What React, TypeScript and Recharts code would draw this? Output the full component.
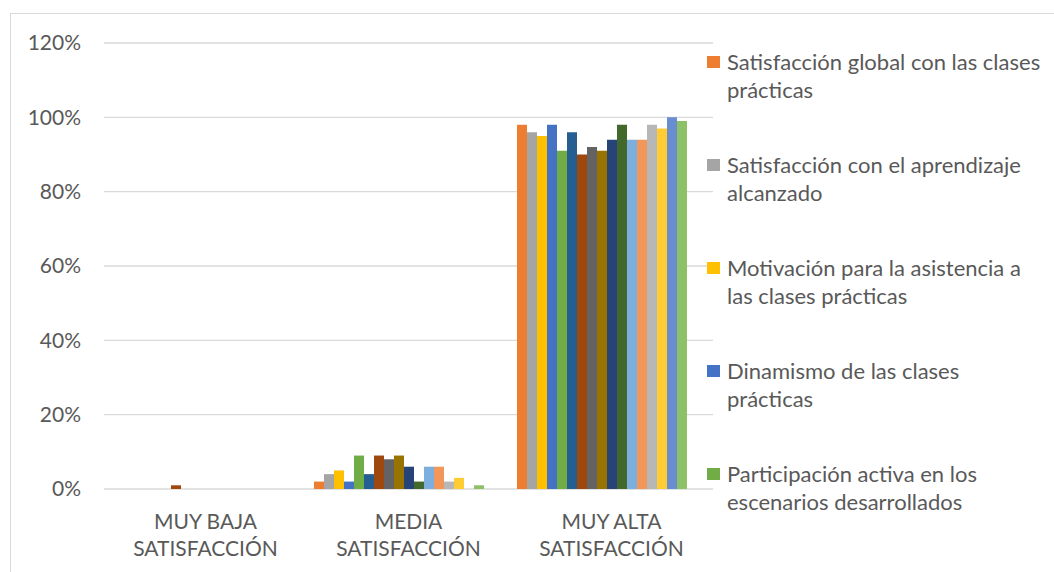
import React from "react";
import { BarChart, Bar, XAxis, YAxis, CartesianGrid, Legend } from "recharts";

const categories = ["MUY BAJA SATISFACCIÓN", "MEDIA SATISFACCIÓN", "MUY ALTA SATISFACCIÓN"];

const seriesNames = [
  "Satisfacción global con las clases prácticas",
  "Satisfacción con el aprendizaje alcanzado",
  "Motivación para la asistencia a las clases prácticas",
  "Dinamismo de las clases prácticas",
  "Participación activa en los escenarios desarrollados",
  "Serie 6",
  "Serie 7",
  "Serie 8",
  "Serie 9",
  "Serie 10",
  "Serie 11",
  "Serie 12",
  "Serie 13",
  "Serie 14",
  "Serie 15",
  "Serie 16",
  "Serie 17",
  "Serie 18",
  "Serie 19",
];

const seriesColors = [
  "#ED7D31", "#A5A5A5", "#FFC000", "#4472C4", "#70AD47", "#255E91", "#9E480E",
  "#636363", "#997300", "#264478", "#43682B", "#7CAFDD", "#F1975A", "#B7B7B7",
  "#FFCD33", "#698ED0", "#8CC168", "#327DC2", "#D26012",
];

// values (%) per series, one array per category
const muyBaja = [0, 0, 0, 0, 0, 0, 1, 0, 0, 0, 0, 0, 0, 0, 0, 0, 0, 0, 0];
const media = [2, 4, 5, 2, 9, 4, 9, 8, 9, 6, 2, 6, 6, 2, 3, 0, 1, 0, 0];
const muyAlta = [98, 96, 95, 98, 91, 96, 90, 92, 91, 94, 98, 94, 94, 98, 97, 100, 99, 0, 0];

const yTicks = [0, 20, 40, 60, 80, 100, 120];
const edgeTicks = [0, 1, 2, 3];

const valuesByCategory = [muyBaja, media, muyAlta];

const data = categories.map((name, ci) => {
  const row: Record<string, any> = { name };
  seriesNames.forEach((_, si) => {
    row["s" + si] = valuesByCategory[ci][si];
  });
  return row;
});

const TEXT = "#595959";
const GRID = "#D9D9D9";
const FONT = "Lato, 'Open Sans', sans-serif";

const CatTick = (props: any) => {
  const { x, y, payload } = props;
  const v: string = payload.value;
  const idx = v.lastIndexOf(" ");
  const l1 = v.slice(0, idx);
  const l2 = v.slice(idx + 1);
  return (
    <text x={x} y={y} textAnchor="middle" fill={TEXT} fontSize={21} fontFamily={FONT}>
      <tspan x={x} y={y + 39.5}>{l1}</tspan>
      <tspan x={x} y={y + 66.5}>{l2}</tspan>
    </text>
  );
};

const renderLegend = (props: any) => {
  const items = [...(props.payload || [])]
    .sort((a: any, b: any) => seriesNames.indexOf(a.value) - seriesNames.indexOf(b.value))
    .slice(0, 5);
  return (
    <div style={{ fontFamily: FONT, textAlign: "left" }}>
      {items.map((it: any, i: number) => (
        <div key={i} style={{ display: "flex", alignItems: "flex-start", marginBottom: 47 }}>
          <div style={{ width: 13, height: 12, background: it.color, marginTop: 8, marginRight: 7, flex: "none" }} />
          <div style={{ fontSize: 22, lineHeight: "28px", color: TEXT, width: 318 }}>{it.value}</div>
        </div>
      ))}
    </div>
  );
};

export default function App() {
  return (
    <div style={{ position: "absolute", left: 0, top: 0, width: 1054, height: 572, overflow: "hidden", background: "#fff" }}>
      <div style={{ position: "absolute", left: 10, top: 13, width: 1200, height: 800, border: `1px solid ${GRID}` }} />
      <BarChart
        width={1054}
        height={572}
        data={data}
        margin={{ top: 43, right: 341, left: 0, bottom: 0 }}
        barCategoryGap={7}
        barGap={0}
      >
        <CartesianGrid xAxisId="cat" vertical={false} stroke={GRID} strokeWidth={1.3} />
        <XAxis
          xAxisId="edge"
          type="number"
          domain={[0, 3]}
          ticks={edgeTicks}
          tick={false}
          tickSize={7}
          height={0}
          stroke={GRID}
          strokeWidth={1.5}
        />
        <XAxis
          xAxisId="cat"
          dataKey="name"
          tickLine={false}
          axisLine={false}
          tickSize={0}
          tickMargin={0}
          height={83}
          interval={0}
          tick={<CatTick />}
        />
        <YAxis
          domain={[0, 120]}
          ticks={yTicks}
          width={104}
          axisLine={false}
          tickLine={false}
          tickSize={0}
          tickMargin={23}
          tickFormatter={(v: number) => `${v}%`}
          tick={{ fill: TEXT, fontSize: 21, fontFamily: FONT }}
        />
        <Legend
          layout="horizontal"
          verticalAlign="middle"
          align="center"
          wrapperStyle={{ left: 707, top: 48, width: 347 }}
          content={renderLegend}
        />
        {seriesNames.map((n, i) => (
          <Bar
            key={n}
            xAxisId="cat"
            dataKey={"s" + i}
            name={n}
            fill={seriesColors[i]}
            isAnimationActive={false}
          />
        ))}
      </BarChart>
    </div>
  );
}
